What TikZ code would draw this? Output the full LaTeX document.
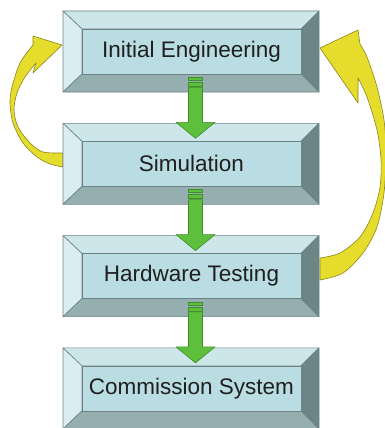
\documentclass[tikz,border=0pt]{standalone}
\usepackage{fontspec}
\setmainfont{Liberation Sans}
\usetikzlibrary{calc}

\definecolor{bvtop}{HTML}{CDE6EA}
\definecolor{bvleft}{HTML}{DAEEF1}
\definecolor{bvface}{HTML}{B9DDE2}
\definecolor{bvright}{HTML}{6C8687}
\definecolor{bvbottom}{HTML}{95AFB1}
\definecolor{bvline}{HTML}{6F8283}
\definecolor{arrgreen}{HTML}{5EBF3C}
\definecolor{arrgreenline}{HTML}{3F8E2B}
\definecolor{arryellow}{HTML}{E6DC2C}
\definecolor{arryellowline}{HTML}{8C8520}

\tikzset{
  bevel/.style={draw=bvline, line width=0.6pt, line join=round},
  facenode/.style={rectangle, inner sep=0pt, minimum width=219pt, minimum height=45pt,
    font=\fontsize{22.5}{27}\selectfont, text=black!88},
  greenarrow/.style={fill=arrgreen, draw=arrgreenline, line width=0.6pt, line join=round},
  loopback/.style={fill=arryellow, draw=arryellowline, line width=0.6pt, line join=round},
}

% bevelled step box: #1 node name, #2 top edge, #3 label
\newcommand\bevelbox[3]{%
  \fill[bvtop, bevel]    (63,#2) -- (319,#2) -- (301,#2+18) -- (82,#2+18) -- cycle;
  \fill[bvleft, bevel]   (63,#2) -- (82,#2+18) -- (82,#2+63) -- (63,#2+81) -- cycle;
  \fill[bvright, bevel]  (319,#2) -- (319,#2+81) -- (301,#2+63) -- (301,#2+18) -- cycle;
  \fill[bvbottom, bevel] (63,#2+81) -- (82,#2+63) -- (301,#2+63) -- (319,#2+81) -- cycle;
  \node[facenode, fill=bvface, draw=bvline, line width=0.6pt] (#1) at (191.5,#2+40.5) {#3};
}

% block arrow hanging below a face node
\newcommand\steparrow[1]{%
  \begin{scope}[shift={(#1.south)}]
    \path[greenarrow] (-3,3) rectangle (11,6);
    \path[greenarrow] (-3,8) rectangle (11,12);
    \path[greenarrow] (-3,13) -- (11,13) -- (11,48) -- (23.5,48) -- (4,64)
      -- (-15.5,48) -- (-3,48) -- cycle;
  \end{scope}
}

\begin{document}
\begin{tikzpicture}[x=1pt, y=-1pt]
\useasboundingbox (0,0) rectangle (385,428);

% curved feedback arrows, drawn first so the boxes cover their tails
\path[loopback] (33,36) -- (62,45) -- (33,73)
  -- plot[smooth] coordinates {(36,63) (25,77) (17,93) (14,110) (18,127) (30,143) (43,152) (63,153)}
  -- plot[smooth] coordinates {(63,167) (50,164) (37,157) (23,143) (13,123) (10,103) (12,87) (20,63) (33,45)}
  -- cycle;

\path[loopback] (358,30) -- (320,48) -- (358,103)
  -- plot[smooth] coordinates {(358,78) (367,97) (377,130) (381,160) (380,187) (373,213) (360,237) (340,253) (320,258)}
  -- plot[smooth] coordinates {(320,280) (343,273) (363,253) (377,227) (384,193) (386,153) (384,120) (377,87) (367,57) (360,44)}
  -- cycle;

\bevelbox{ie}{11}{Initial Engineering}
\bevelbox{sim}{123.3}{Simulation}
\bevelbox{hw}{235.6}{Hardware Testing}
\bevelbox{cs}{347.9}{Commission System}

\steparrow{ie}
\steparrow{sim}
\steparrow{hw}
\end{tikzpicture}
\end{document}
